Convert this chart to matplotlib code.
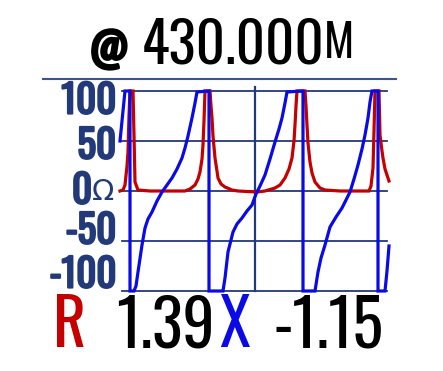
import matplotlib
matplotlib.use("Agg")
import matplotlib.pyplot as plt
import matplotlib.patheffects as pe

# ---- data (x = sweep position, values in ohms) ----
x_blue = [120, 122, 124, 125, 129, 130, 130, 134, 136, 138, 142, 145, 148, 152, 157, 162, 167, 172, 177, 182,
          185, 188, 192, 195, 197, 208, 209, 209, 223, 225, 228, 233, 237, 242, 247, 252, 256, 260, 265, 270,
          275, 279, 282, 285, 287, 302, 303, 303, 315, 318, 321, 325, 330, 336, 342, 346, 350, 354, 358, 362,
          365, 368, 370, 372, 377, 378, 378, 385, 387, 389]
reactance = [50, 70, 90, 100, 100, 100, -100, -100, -95, -81, -54, -37, -28, -21, -10, -1, 6, 13, 22, 33,
             43, 55, 73, 88, 99, 100, 100, -100, -100, -87, -61, -41, -33, -27, -20, -14, -3, 5, 16, 32,
             49, 62, 73, 88, 99, 100, 100, -100, -100, -81, -67, -54, -36, -26, -17, -9, -1, 12, 26, 42,
             56, 73, 89, 100, 100, 100, -100, -100, -80, -55]

x_red = [120, 123, 125, 127, 128, 129, 130, 133, 134, 135, 138, 150, 170, 185, 190, 195, 198, 200, 202, 203,
         204, 205, 210, 211, 212, 213, 215, 217, 218, 221, 225, 232, 238, 257, 265, 275, 280, 285, 289, 292,
         294, 295, 296, 297, 305, 306, 307, 308, 310, 312, 315, 320, 325, 340, 360, 369, 371, 373, 374, 375,
         379, 380, 382, 383, 385, 388, 389]
resistance = [0, 1, 6, 25, 39, 75, 100, 100, 56, 9, 1, 0, 0, 0, 2, 6, 12, 19, 32, 46,
              70, 100, 100, 85, 73, 55, 33, 20, 13, 7, 4, 1, 0, -1, 0, 3, 6, 13, 22, 33,
              50, 66, 85, 100, 100, 85, 66, 48, 29, 18, 9, 3, 1, 0, 0, 0, 5, 23, 60, 100,
              100, 56, 40, 33, 22, 13, 10]

y_levels = [100, 50, 0, -50, -100]
y_labels = ["100", "50", "0", "-50", "-100"]
y_label_pos = [90, 45, 0, -40, -84]
ohm_sign = "Ω"

title_at = "@"
title_freq = "430.000"
title_unit = "M"
r_value = "1.39"
x_value = "-1.15"

# ---- styling ----
W, H = 443, 371
NAVY = "#22397a"
RED = "#c40000"
BLUE = "#0a0ae6"
FONT = ["Oswald", "Roboto Condensed", "DejaVu Sans Condensed", "DejaVu Sans"]


def bold(color, w=1.6):
    return [pe.withStroke(linewidth=w, foreground=color)]


fig = plt.figure(figsize=(W / 100, H / 100), dpi=100)
fig.patch.set_facecolor("white")

x0, x1 = 120, 389
ax = fig.add_axes([x0 / W, (H - 291) / H, (x1 - x0) / W, 200 / H])
ax.set_xlim(x0, x1)
ax.set_ylim(-100, 100)
ax.axis("off")

for lv in y_levels:
    ax.plot([122, 387], [lv, lv], color=NAVY, lw=1.3, clip_on=False, zorder=1)
ax.plot([255, 255], [-100, 104], color=NAVY, lw=1.6, clip_on=False, zorder=1)

ax.plot(x_red, resistance, color=RED, lw=2.3, clip_on=False, zorder=3, solid_joinstyle="miter")
ax.plot(x_blue, reactance, color=BLUE, lw=2.3, clip_on=False, zorder=4, solid_joinstyle="miter")

for lab, yp in zip(y_labels, y_label_pos):
    xr = 116 if lab != "0" else 92
    ax.text(xr, yp, lab, ha="right", va="center", color=NAVY, fontsize=28,
            family=FONT, clip_on=False, path_effects=bold(NAVY))
ax.text(92, y_label_pos[2] - 1, ohm_sign, ha="left", va="center", color=NAVY, fontsize=21,
        family="DejaVu Sans", clip_on=False)

# separator line
fig.add_artist(plt.Line2D([43 / W, 396 / W], [(H - 79) / H, (H - 79) / H],
                          color="#3a5590", lw=1.5))

# title
fig.text(109 / W, (H - 50) / H, title_at, ha="center", va="center", fontsize=30,
         family=FONT, color="black", path_effects=bold("black", 2.2))
fig.text(233 / W, (H - 46) / H, title_freq, ha="center", va="center", fontsize=41,
         family=FONT, color="black")
fig.text(339 / W, (H - 43) / H, title_unit, ha="center", va="center", fontsize=33,
         family=FONT, color="black")

# bottom readout
fig.text(70 / W, (H - 327) / H, "R", ha="center", va="center", fontsize=46,
         family=FONT, color=RED)
fig.text(165 / W, (H - 327) / H, r_value, ha="center", va="center", fontsize=46,
         family=FONT, color="black")
fig.text(235 / W, (H - 327) / H, "X", ha="center", va="center", fontsize=46,
         family=FONT, color=BLUE)
fig.text(328 / W, (H - 327) / H, x_value, ha="center", va="center", fontsize=46,
         family=FONT, color="black")

fig.savefig("out.png", dpi=100)
